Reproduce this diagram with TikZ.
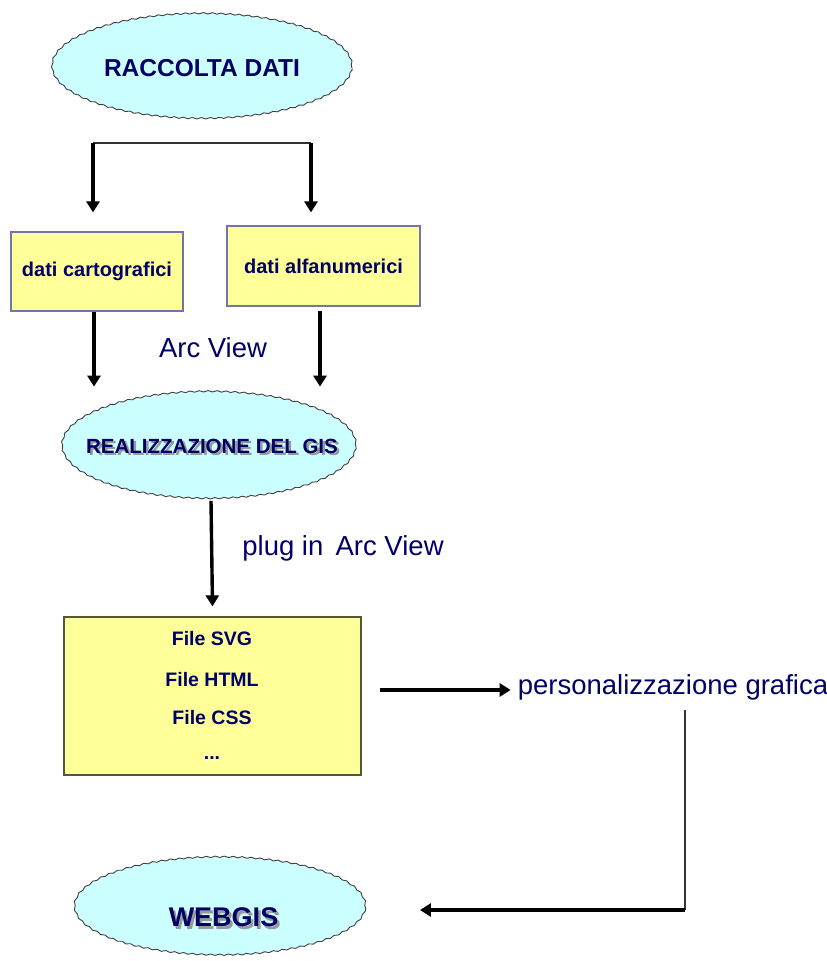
\documentclass[tikz,border=0pt]{standalone}
\usepackage{fontspec}
\setmainfont{Liberation Sans}
\usetikzlibrary{arrows.meta,decorations.pathmorphing,shapes.geometric}
\definecolor{navy}{HTML}{000066}
\definecolor{cloudfill}{HTML}{CCFFFF}
\definecolor{palefill}{HTML}{FFFF99}
\definecolor{boxedge}{HTML}{7474A8}
\definecolor{fileedge}{HTML}{55553A}
\newcommand{\shadowedtext}[1]{\leavevmode\rlap{\kern2.5pt\raisebox{-2.5pt}{\textcolor{black!40}{#1}}}#1}
\begin{document}
\begin{tikzpicture}[x=1pt,y=-1pt,
  cloud/.style={ellipse, fill=cloudfill, draw=black!75, line width=0.9pt,
    decorate, decoration={snake, amplitude=0.7pt, segment length=9pt},
    inner sep=0pt, text=navy, font=\bfseries},
  ybox/.style={rectangle, fill=palefill, draw=boxedge, line width=1.2pt,
    inner sep=0pt, text=navy, font=\bfseries\fontsize{20}{22}\selectfont},
  lbl/.style={text=navy, inner sep=0pt, font=\fontsize{27.5}{30}\selectfont},
  arr/.style={line width=3.4pt, -{Triangle[width=13pt,length=11pt]}},
  thinline/.style={line width=1.4pt, draw=black!80}]
\useasboundingbox (0,0) rectangle (827,961);

% nodes
\node[cloud, minimum width=300pt, minimum height=105pt] (rac) at (202,68)
  {\fontsize{24.5}{26}\selectfont RACCOLTA DATI};
\node[ybox, minimum width=172pt, minimum height=79pt] (carto) at (97,271.5)
  {dati cartografici};
\node[ybox, minimum width=193pt, minimum height=80pt] (alfa) at (323.5,266)
  {dati alfanumerici};
\node[lbl] (arcview) at (213,348) {Arc View};
\node[cloud, minimum width=294pt, minimum height=107pt] (gis) at (209,447) {};
\node[text=navy, font=\bfseries\fontsize{20.5}{22}\selectfont, inner sep=0pt]
  (gistext) at (212,447.5) {\shadowedtext{REALIZZAZIONE DEL GIS}};
\node[lbl] (plug) at (343,548) {plug in\, Arc View};
\node[rectangle, fill=palefill, draw=fileedge, line width=1.3pt,
  minimum width=297pt, minimum height=158pt, inner sep=0pt] (files) at (212.5,696) {};
\begin{scope}[every node/.style={text=navy, inner sep=0pt, font=\bfseries\fontsize{19.5}{21}\selectfont}]
  \node (f1) at (212,639) {File SVG};
  \node (f2) at (212,680) {File HTML};
  \node (f3) at (212,718) {File CSS};
  \node (f4) at (212,758) {...};
\end{scope}
\node[lbl] (pers) at (673,687) {personalizzazione grafica};
\node[cloud, minimum width=291pt, minimum height=98pt] (web) at (220,908) {};
\node[text=navy, font=\bfseries\fontsize{27}{29}\selectfont, inner sep=0pt]
  (webtext) at (223.5,918.5) {\shadowedtext{WEBGIS}};

% connectors
\coordinate (b1) at (93,143);
\coordinate (b2) at (311,143);
\draw[thinline, line width=1.1pt] (b1) -- (b2);
\draw[arr] (b1) -- ([yshift=19pt]carto.north -| b1);
\draw[arr] (b2) -- ([yshift=13pt]alfa.north -| b2);
\draw[arr] ([xshift=-3pt]carto.south) -- ++(0,75);
\draw[arr] ([xshift=-3.5pt,yshift=-4pt]alfa.south) -- ++(0,76);
\draw[arr] ([xshift=2pt]gis.south) -- ([xshift=0pt,yshift=10pt]files.north);
\draw[arr] ([xshift=18pt,yshift=6pt]files.east) -- ++(131,0);
\coordinate (c1) at (685,910);
\draw[thinline] ([xshift=12pt,yshift=-10pt]pers.south) -- (c1);
\draw[arr] (c1) -- ([xshift=54pt]web.east |- c1);
\end{tikzpicture}
\end{document}
